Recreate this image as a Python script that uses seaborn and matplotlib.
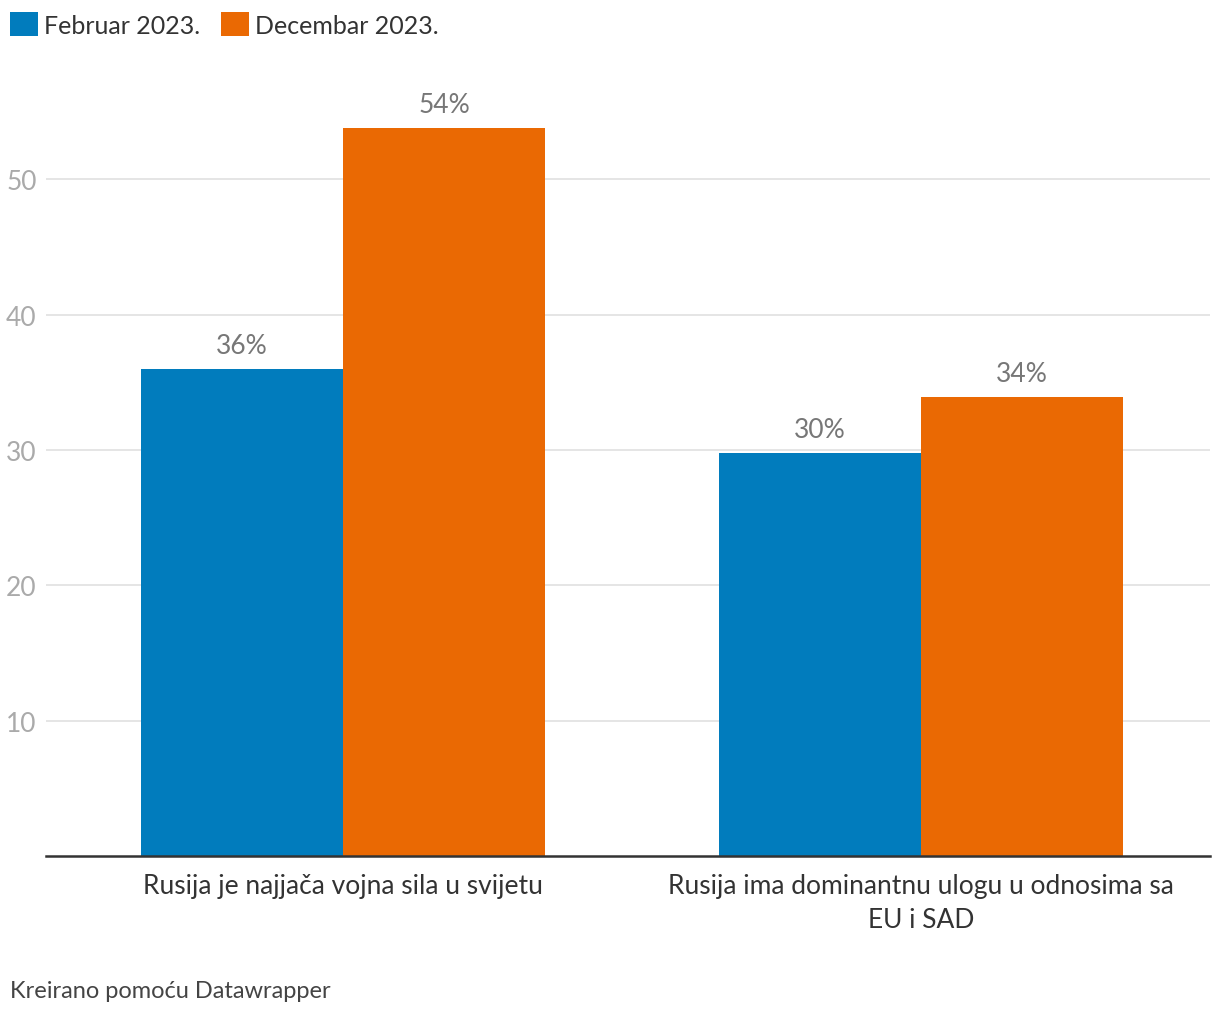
import matplotlib
matplotlib.use("Agg")
import matplotlib.pyplot as plt
import pandas as pd
import seaborn as sns
from matplotlib.patches import Patch

categories = [
    "Rusija je najjača vojna sila u svijetu",
    "Rusija ima dominantnu ulogu u odnosima sa\nEU i SAD",
]
series = ["Februar 2023.", "Decembar 2023."]
feb_values = [36.0, 29.8]
dec_values = [53.8, 33.9]
yticks = [10, 20, 30, 40, 50]

colors = {"Februar 2023.": "#017cbd", "Decembar 2023.": "#ea6903"}

df = pd.DataFrame({
    "kategorija": categories * 2,
    "serija": [series[0]] * 2 + [series[1]] * 2,
    "vrijednost": feb_values + dec_values,
})

sns.set_theme(style="white")
plt.rcParams["font.family"] = ["Lato", "DejaVu Sans"]

fig = plt.figure(figsize=(12.2, 10.2), dpi=100)
ax = fig.add_axes([46 / 1220, 163 / 1020, 1164 / 1220, 785 / 1020])

sns.barplot(
    data=df, x="kategorija", y="vrijednost", hue="serija",
    hue_order=series, palette=colors, width=0.7, dodge=True,
    saturation=1, legend=False, ax=ax, linewidth=0,
)

ax.set_xlim(-0.514, 1.5)
ax.set_ylim(0, 58)
ax.set_yticks(yticks)
ax.set_xlabel("")
ax.set_ylabel("")
ax.yaxis.grid(True, color="#e3e3e3", linewidth=1.3)
ax.set_axisbelow(True)
for s in ["top", "right", "left"]:
    ax.spines[s].set_visible(False)
ax.spines["bottom"].set_color("#333333")
ax.spines["bottom"].set_linewidth(1.8)
ax.tick_params(axis="y", length=0, labelsize=19, labelcolor="#aaaaaa")
ax.tick_params(axis="x", length=0, labelsize=19, labelcolor="#333333", pad=12)
for lbl in ax.get_yticklabels():
    lbl.set_horizontalalignment("left")
    lbl.set_x(-35 / 1164)
for lbl in ax.get_xticklabels():
    lbl.set_linespacing(1.45)

for cont in ax.containers:
    ax.bar_label(cont, labels=[f"{round(b.get_height())}%" for b in cont],
                 padding=8, fontsize=19, color="#777777")

handles = [Patch(facecolor=colors[s], edgecolor="none") for s in series]
fig.legend(handles, series, loc="upper left", bbox_to_anchor=(10 / 1220, 1 - 13 / 1020),
           ncol=2, frameon=False, fontsize=18, handlelength=1.1, handleheight=1.1,
           handletextpad=0.25, columnspacing=0.85, labelcolor="#333333",
           borderaxespad=0, borderpad=0)

fig.text(10 / 1220, 1 - 992 / 1020, "Kreirano pomoću Datawrapper",
         fontsize=17, color="#444444", va="center", ha="left")

fig.savefig("out.png", dpi=100)
